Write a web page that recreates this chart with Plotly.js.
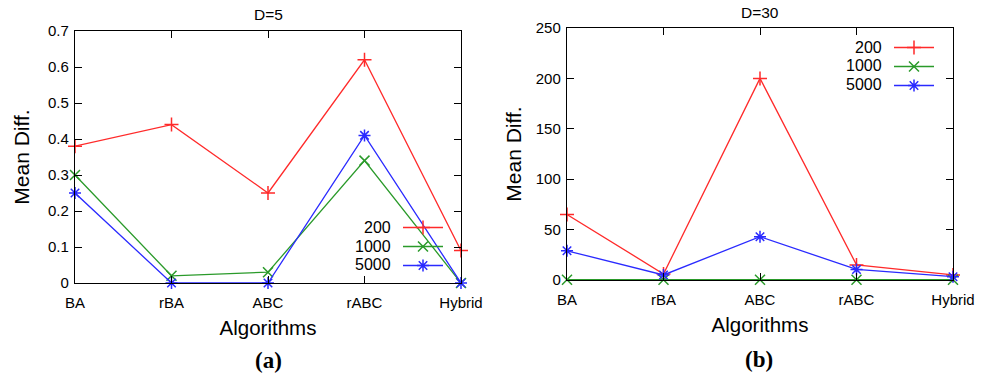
<!DOCTYPE html>
<html><head><meta charset="utf-8">
<script src="https://cdn.plot.ly/plotly-3.0.1.min.js"></script>
<style>html,body{margin:0;padding:0;background:#fff}#chart{width:987px;height:377px}</style>
</head><body><div id="chart"></div>
<script>
const algorithms = ['BA','rBA','ABC','rABC','Hybrid'];
const seriesLabels = ['200','1000','5000'];
// D=5
const d5_200  = [0.38, 0.44, 0.25, 0.62, 0.09];
const d5_1000 = [0.30, 0.02, 0.03, 0.34, 0.00];
const d5_5000 = [0.25, 0.00, 0.00, 0.41, 0.00];
// D=30
const d30_200  = [65, 6, 200, 15, 5];
const d30_1000 = [0.3, 0.3, 0.3, 0.3, 0.3];
const d30_5000 = [29, 5, 43, 10.5, 3.3];

const colors = ['#ff2a2a','#2a9a2a','#2a2aff'];
const symbols = ['cross-thin-open','x-thin-open','asterisk-open'];

function mk(y, i, xa, ya, lg, show){
  return {x: algorithms, y: y, type:'scatter', mode:'lines+markers', name: seriesLabels[i],
    xaxis: xa, yaxis: ya, legend: lg, showlegend: show, cliponaxis:false,
    line:{color: colors[i], width:1.3},
    marker:{symbol: symbols[i], size:10, color: colors[i], line:{color: colors[i], width:1.5}}};
}
const data = [
  mk(d5_200,0,'x','y','legend',true), mk(d5_1000,1,'x','y','legend',true), mk(d5_5000,2,'x','y','legend',true),
  mk(d30_200,0,'x2','y2','legend2',true), mk(d30_1000,1,'x2','y2','legend2',true), mk(d30_5000,2,'x2','y2','legend2',true)
];

const FONT = 'Liberation Sans, Arial, sans-serif';
const H = 377, W = 987;
function xax(d0,d1){ return {domain:[d0,d1], type:'category', range:[0,4], showline:true, mirror:'ticks', linecolor:'#000', linewidth:1.2,
  ticks:'inside', ticklen:7, tickcolor:'#000', showgrid:false, zeroline:false, automargin:false,
  tickfont:{family:FONT,size:15,color:'#000'}, ticklabelstandoff:6,
  title:{text:'Algorithms', font:{family:FONT,size:20.5,color:'#000'}, standoff:10}}; }
function yax(d0,d1,range,dtick,anchor,so){ return {domain:[d0,d1], range:range, dtick:dtick, anchor:anchor, showline:true, mirror:'ticks', linecolor:'#000', linewidth:1.2,
  ticks:'inside', ticklen:7, tickcolor:'#000', showgrid:false, zeroline:false, automargin:false,
  tickfont:{family:FONT,size:15,color:'#000'}, ticklabelstandoff:2,
  title:{text:'Mean Diff.', font:{family:FONT,size:21,color:'#000'}, standoff:so}}; }

const legBase = {bgcolor:'rgba(0,0,0,0)', borderwidth:0, font:{family:FONT,size:11,color:'rgba(0,0,0,0)'}, itemwidth:40, tracegroupgap:0, xanchor:'left', yanchor:'top'};

function ann(text, xp, yp, font, xanchor){
  return {text:text, x:xp/W, y:1-yp/H, xref:'paper', yref:'paper', showarrow:false, xanchor:xanchor||'center', yanchor:'middle', font:font};
}
const TF = {family:FONT,size:15.5,color:'#000'};
const SF = {family:'Liberation Serif, Times New Roman, serif',size:23,color:'#000'};
const LF = {family:FONT,size:16,color:'#000'};

const layout = {
  width:W, height:H, margin:{l:0,r:0,t:0,b:0}, paper_bgcolor:'#fff', plot_bgcolor:'#fff',
  font:{family:FONT,color:'#000'},
  xaxis: Object.assign(xax(75/W, 461/W), {anchor:'y'}),
  yaxis: yax(1-283/H, 1-31/H, [0,0.7], 0.1, 'x', 12),
  xaxis2: Object.assign(xax(567/W, 953/W), {anchor:'y2'}),
  yaxis2: yax(1-280/H, 1-28/H, [0,250], 50, 'x2', 8),
  legend: Object.assign({}, legBase, {x:398/W, y:1-213/H}),
  legend2: Object.assign({}, legBase, {x:889/W, y:1-33/H}),
  annotations: [
    ann('D=5', 268, 15, TF), ann('D=30', 760, 13, TF),
    ann('<b>(a)</b>', 268, 360, SF), ann('<b>(b)</b>', 759, 359, SF)
  ].concat(seriesLabels.map((s,i)=>ann(s, 393, 228+18*i, LF, 'right')))
   .concat(seriesLabels.map((s,i)=>ann(s, 884, 47+18.5*i, LF, 'right')))
};
Plotly.newPlot('chart', data, layout, {displayModeBar:false, staticPlot:true});
</script></body></html>
